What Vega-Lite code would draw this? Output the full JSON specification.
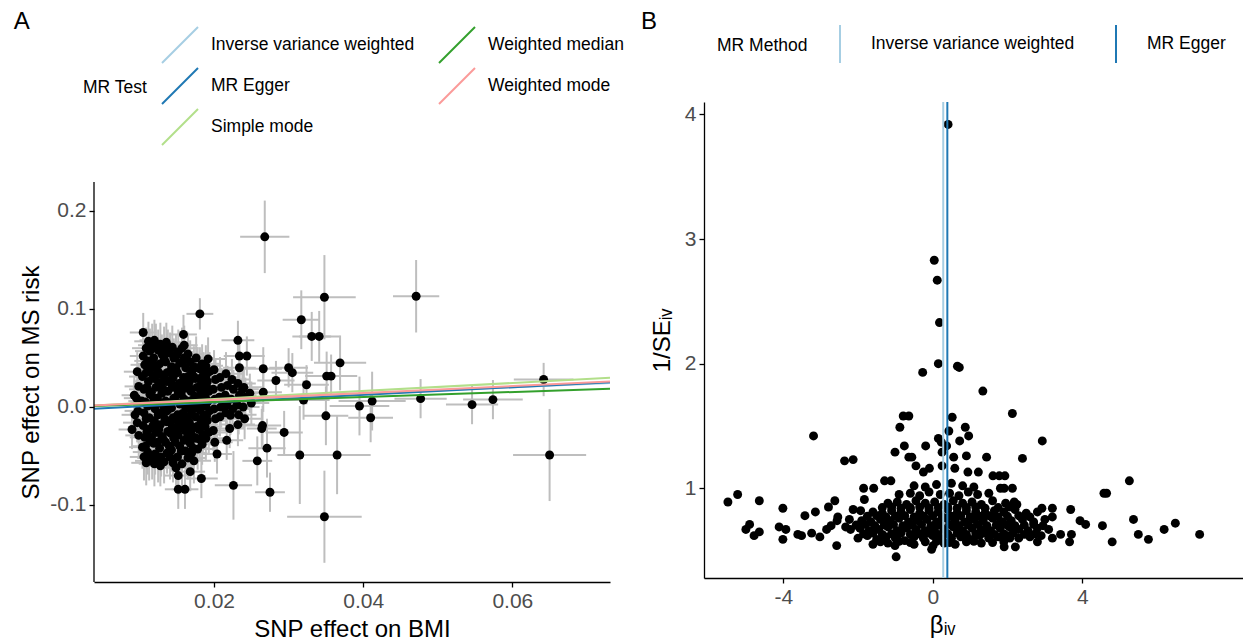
{
"$schema":"https://vega.github.io/schema/vega-lite/v6.json",
"padding":{"left":13,"top":10,"right":0,"bottom":0},
"config":{
 "font":"Liberation Sans",
 "view":{"stroke":null},
 "locale":{"number":{"decimal":".","thousands":",","grouping":[3],"currency":["$",""],"minus":"-"}},
 "axis":{"grid":false,"domainColor":"#000","domainWidth":1.3,"tickColor":"#000","tickSize":5,"tickWidth":1.3,"labelFontSize":21,"labelColor":"#4d4d4d","titleFontSize":24,"titleFontWeight":"normal","titleColor":"#000","labelPadding":3,"titlePadding":6},
 "title":{"fontSize":24,"fontWeight":"normal","anchor":"start","frame":"bounds","color":"#000"},
 "legend":{"labelFontSize":17.5,"titleFontSize":17.5,"titleFontWeight":"normal","labelColor":"#000","titleColor":"#000","labelLimit":0}
},
"datasets":{
"axisA":[{"ax":0.0039,"ay":-0.1786,"ay2":0.2296}],
"snpA":[
{"bx":0.0268,"my":0.1736,"bxe":0.0033,"mye":0.037},
{"bx":0.0348,"my":0.112,"bxe":0.0042,"mye":0.043},
{"bx":0.0471,"my":0.113,"bxe":0.0031,"mye":0.037},
{"bx":0.0181,"my":0.095,"bxe":0.0018,"mye":0.016},
{"bx":0.0317,"my":0.089,"bxe":0.0025,"mye":0.03},
{"bx":0.0331,"my":0.072,"bxe":0.0026,"mye":0.025},
{"bx":0.0341,"my":0.072,"bxe":0.0027,"mye":0.026},
{"bx":0.0369,"my":0.045,"bxe":0.0035,"mye":0.028},
{"bx":0.0351,"my":0.0315,"bxe":0.0028,"mye":0.025},
{"bx":0.0357,"my":0.0315,"bxe":0.0035,"mye":0.022},
{"bx":0.0324,"my":0.0227,"bxe":0.003,"mye":0.02},
{"bx":0.03,"my":0.04,"bxe":0.0026,"mye":0.02},
{"bx":0.0305,"my":0.035,"bxe":0.0028,"mye":0.02},
{"bx":0.0283,"my":0.027,"bxe":0.0025,"mye":0.02},
{"bx":0.0266,"my":0.039,"bxe":0.0025,"mye":0.022},
{"bx":0.0232,"my":0.068,"bxe":0.0022,"mye":0.02},
{"bx":0.0234,"my":0.052,"bxe":0.0021,"mye":0.02},
{"bx":0.0244,"my":0.052,"bxe":0.0024,"mye":0.02},
{"bx":0.0234,"my":0.04,"bxe":0.0022,"mye":0.018},
{"bx":0.0642,"my":0.028,"bxe":0.004,"mye":0.017},
{"bx":0.0477,"my":0.0085,"bxe":0.0035,"mye":0.02},
{"bx":0.0546,"my":0.0024,"bxe":0.0035,"mye":0.02},
{"bx":0.0574,"my":0.0075,"bxe":0.004,"mye":0.02},
{"bx":0.0395,"my":0.001,"bxe":0.004,"mye":0.03},
{"bx":0.0412,"my":0.006,"bxe":0.0045,"mye":0.03},
{"bx":0.041,"my":-0.011,"bxe":0.003,"mye":0.025},
{"bx":0.035,"my":-0.009,"bxe":0.003,"mye":0.03},
{"bx":0.032,"my":0.007,"bxe":0.0035,"mye":0.02},
{"bx":0.0365,"my":-0.049,"bxe":0.0045,"mye":0.04},
{"bx":0.0315,"my":-0.049,"bxe":0.003,"mye":0.05},
{"bx":0.065,"my":-0.049,"bxe":0.0049,"mye":0.047},
{"bx":0.0348,"my":-0.112,"bxe":0.005,"mye":0.047},
{"bx":0.0294,"my":-0.026,"bxe":0.0025,"mye":0.022},
{"bx":0.0275,"my":-0.087,"bxe":0.002,"mye":0.02},
{"bx":0.0226,"my":-0.08,"bxe":0.0025,"mye":0.035},
{"bx":0.0271,"my":-0.042,"bxe":0.0025,"mye":0.03},
{"bx":0.0265,"my":-0.019,"bxe":0.0025,"mye":0.02},
{"bx":0.0264,"my":-0.022,"bxe":0.002,"mye":0.02},
{"bx":0.0258,"my":-0.055,"bxe":0.002,"mye":0.025},
{"bx":0.0222,"my":-0.0085,"bxe":0.002,"mye":0.02},
{"bx":0.0221,"my":-0.022,"bxe":0.002,"mye":0.02},
{"bx":0.0217,"my":-0.034,"bxe":0.0022,"mye":0.02},
{"bx":0.0204,"my":-0.048,"bxe":0.002,"mye":0.02},
{"bx":0.0183,"my":-0.073,"bxe":0.0022,"mye":0.02},
{"bx":0.0168,"my":-0.066,"bxe":0.002,"mye":0.02},
{"bx":0.0152,"my":-0.07,"bxe":0.0018,"mye":0.02},
{"bx":0.0152,"my":-0.084,"bxe":0.0018,"mye":0.02},
{"bx":0.0161,"my":-0.084,"bxe":0.0018,"mye":0.02},
{"bx":0.009,"my":-0.023,"bxe":0.0018,"mye":0.02},
{"bx":0.0105,"my":0.076,"bxe":0.0018,"mye":0.02},
{"bx":0.0159,"my":0.074,"bxe":0.0018,"mye":0.02},
{"bx":0.016,"my":0.063,"bxe":0.0018,"mye":0.02},
{"bx":0.0266,"my":0.015,"bxe":0.0025,"mye":0.02},
{"bx":0.0238,"my":0.018,"bxe":0.0022,"mye":0.02},
{"bx":0.0097,"my":0.036,"bxe":0.0018,"mye":0.02},
{"bx":0.0099,"my":0.021,"bxe":0.0019,"mye":0.022},
{"bx":0.0096,"my":0.009,"bxe":0.0017,"mye":0.019},
{"bx":0.0098,"my":-0.004,"bxe":0.0018,"mye":0.021},
{"bx":0.0097,"my":-0.016,"bxe":0.0019,"mye":0.02},
{"bx":0.0099,"my":-0.029,"bxe":0.0018,"mye":0.023},
{"bx":0.0093,"my":0.012,"bxe":0.0017,"mye":0.02},
{"bx":0.0094,"my":-0.008,"bxe":0.0018,"mye":0.019},
{"bx":0.0105,"my":0.052,"bxe":0.0018,"mye":0.021},
{"bx":0.0107,"my":0.043,"bxe":0.0019,"mye":0.024},
{"bx":0.0104,"my":0.031,"bxe":0.0018,"mye":0.02},
{"bx":0.0106,"my":0.018,"bxe":0.002,"mye":0.022},
{"bx":0.0103,"my":0.006,"bxe":0.0018,"mye":0.019},
{"bx":0.0106,"my":-0.006,"bxe":0.0019,"mye":0.021},
{"bx":0.0105,"my":-0.019,"bxe":0.0018,"mye":0.023},
{"bx":0.0107,"my":-0.031,"bxe":0.002,"mye":0.02},
{"bx":0.0104,"my":-0.041,"bxe":0.0018,"mye":0.022},
{"bx":0.0106,"my":-0.051,"bxe":0.0019,"mye":0.024},
{"bx":0.0112,"my":0.067,"bxe":0.0019,"mye":0.02},
{"bx":0.0114,"my":0.057,"bxe":0.002,"mye":0.023},
{"bx":0.0111,"my":0.047,"bxe":0.0018,"mye":0.021},
{"bx":0.0113,"my":0.038,"bxe":0.0019,"mye":0.019},
{"bx":0.0112,"my":0.026,"bxe":0.002,"mye":0.022},
{"bx":0.0114,"my":0.013,"bxe":0.0018,"mye":0.02},
{"bx":0.0111,"my":0.001,"bxe":0.0019,"mye":0.024},
{"bx":0.0113,"my":-0.011,"bxe":0.0021,"mye":0.021},
{"bx":0.0112,"my":-0.023,"bxe":0.0019,"mye":0.02},
{"bx":0.0114,"my":-0.035,"bxe":0.0018,"mye":0.022},
{"bx":0.0111,"my":-0.046,"bxe":0.002,"mye":0.023},
{"bx":0.0113,"my":-0.055,"bxe":0.0019,"mye":0.02},
{"bx":0.012,"my":0.068,"bxe":0.002,"mye":0.021},
{"bx":0.0122,"my":0.061,"bxe":0.0019,"mye":0.024},
{"bx":0.0119,"my":0.05,"bxe":0.002,"mye":0.02},
{"bx":0.0121,"my":0.04,"bxe":0.0021,"mye":0.022},
{"bx":0.012,"my":0.029,"bxe":0.0019,"mye":0.019},
{"bx":0.0122,"my":0.02,"bxe":0.002,"mye":0.023},
{"bx":0.0119,"my":0.009,"bxe":0.0021,"mye":0.021},
{"bx":0.0121,"my":-0.002,"bxe":0.0019,"mye":0.02},
{"bx":0.012,"my":-0.014,"bxe":0.002,"mye":0.022},
{"bx":0.0122,"my":-0.026,"bxe":0.0021,"mye":0.024},
{"bx":0.0119,"my":-0.037,"bxe":0.0019,"mye":0.02},
{"bx":0.0121,"my":-0.048,"bxe":0.002,"mye":0.021},
{"bx":0.012,"my":-0.058,"bxe":0.0021,"mye":0.023},
{"bx":0.0128,"my":0.064,"bxe":0.002,"mye":0.022},
{"bx":0.013,"my":0.054,"bxe":0.0021,"mye":0.02},
{"bx":0.0127,"my":0.044,"bxe":0.0019,"mye":0.024},
{"bx":0.0129,"my":0.033,"bxe":0.002,"mye":0.021},
{"bx":0.0128,"my":0.023,"bxe":0.0022,"mye":0.019},
{"bx":0.013,"my":0.014,"bxe":0.002,"mye":0.022},
{"bx":0.0127,"my":0.004,"bxe":0.0019,"mye":0.023},
{"bx":0.0129,"my":-0.006,"bxe":0.0021,"mye":0.02},
{"bx":0.0128,"my":-0.018,"bxe":0.002,"mye":0.021},
{"bx":0.013,"my":-0.03,"bxe":0.0019,"mye":0.024},
{"bx":0.0127,"my":-0.042,"bxe":0.0021,"mye":0.022},
{"bx":0.0129,"my":-0.051,"bxe":0.002,"mye":0.02},
{"bx":0.0128,"my":-0.06,"bxe":0.0019,"mye":0.021},
{"bx":0.0136,"my":0.066,"bxe":0.0021,"mye":0.02},
{"bx":0.0138,"my":0.056,"bxe":0.002,"mye":0.023},
{"bx":0.0135,"my":0.046,"bxe":0.0022,"mye":0.021},
{"bx":0.0137,"my":0.035,"bxe":0.002,"mye":0.019},
{"bx":0.0136,"my":0.026,"bxe":0.0021,"mye":0.022},
{"bx":0.0138,"my":0.016,"bxe":0.0019,"mye":0.024},
{"bx":0.0135,"my":0.006,"bxe":0.002,"mye":0.02},
{"bx":0.0137,"my":-0.004,"bxe":0.0022,"mye":0.021},
{"bx":0.0136,"my":-0.015,"bxe":0.002,"mye":0.023},
{"bx":0.0138,"my":-0.025,"bxe":0.0021,"mye":0.02},
{"bx":0.0135,"my":-0.036,"bxe":0.0019,"mye":0.022},
{"bx":0.0137,"my":-0.047,"bxe":0.002,"mye":0.021},
{"bx":0.0144,"my":0.061,"bxe":0.0021,"mye":0.022},
{"bx":0.0146,"my":0.05,"bxe":0.002,"mye":0.02},
{"bx":0.0143,"my":0.041,"bxe":0.0022,"mye":0.024},
{"bx":0.0145,"my":0.03,"bxe":0.0021,"mye":0.021},
{"bx":0.0144,"my":0.02,"bxe":0.002,"mye":0.019},
{"bx":0.0146,"my":0.009,"bxe":0.0022,"mye":0.023},
{"bx":0.0143,"my":-0.001,"bxe":0.0021,"mye":0.022},
{"bx":0.0145,"my":-0.011,"bxe":0.002,"mye":0.02},
{"bx":0.0144,"my":-0.021,"bxe":0.0022,"mye":0.024},
{"bx":0.0146,"my":-0.032,"bxe":0.0021,"mye":0.021},
{"bx":0.0143,"my":-0.044,"bxe":0.002,"mye":0.022},
{"bx":0.0145,"my":-0.057,"bxe":0.0022,"mye":0.02},
{"bx":0.0152,"my":0.056,"bxe":0.0021,"mye":0.023},
{"bx":0.0154,"my":0.045,"bxe":0.0022,"mye":0.021},
{"bx":0.0151,"my":0.035,"bxe":0.002,"mye":0.02},
{"bx":0.0153,"my":0.024,"bxe":0.0021,"mye":0.022},
{"bx":0.0152,"my":0.014,"bxe":0.0023,"mye":0.024},
{"bx":0.0154,"my":0.003,"bxe":0.0021,"mye":0.021},
{"bx":0.0151,"my":-0.008,"bxe":0.002,"mye":0.02},
{"bx":0.0153,"my":-0.018,"bxe":0.0022,"mye":0.023},
{"bx":0.0152,"my":-0.029,"bxe":0.0021,"mye":0.022},
{"bx":0.0154,"my":-0.04,"bxe":0.0023,"mye":0.02},
{"bx":0.0151,"my":-0.051,"bxe":0.0021,"mye":0.024},
{"bx":0.016,"my":0.05,"bxe":0.0022,"mye":0.021},
{"bx":0.0162,"my":0.04,"bxe":0.0021,"mye":0.02},
{"bx":0.0159,"my":0.03,"bxe":0.0023,"mye":0.022},
{"bx":0.0161,"my":0.019,"bxe":0.0022,"mye":0.024},
{"bx":0.016,"my":0.008,"bxe":0.0021,"mye":0.021},
{"bx":0.0162,"my":-0.002,"bxe":0.0023,"mye":0.02},
{"bx":0.0159,"my":-0.013,"bxe":0.0022,"mye":0.023},
{"bx":0.0161,"my":-0.024,"bxe":0.0021,"mye":0.022},
{"bx":0.016,"my":-0.034,"bxe":0.0022,"mye":0.02},
{"bx":0.0162,"my":-0.045,"bxe":0.0023,"mye":0.024},
{"bx":0.0168,"my":0.046,"bxe":0.0022,"mye":0.022},
{"bx":0.017,"my":0.036,"bxe":0.0023,"mye":0.02},
{"bx":0.0167,"my":0.026,"bxe":0.0021,"mye":0.024},
{"bx":0.0169,"my":0.016,"bxe":0.0022,"mye":0.021},
{"bx":0.0168,"my":0.006,"bxe":0.0024,"mye":0.022},
{"bx":0.017,"my":-0.004,"bxe":0.0022,"mye":0.02},
{"bx":0.0167,"my":-0.016,"bxe":0.0021,"mye":0.023},
{"bx":0.0169,"my":-0.026,"bxe":0.0023,"mye":0.021},
{"bx":0.0168,"my":-0.037,"bxe":0.0022,"mye":0.024},
{"bx":0.017,"my":-0.047,"bxe":0.0021,"mye":0.02},
{"bx":0.0176,"my":0.05,"bxe":0.0023,"mye":0.022},
{"bx":0.0178,"my":0.04,"bxe":0.0022,"mye":0.021},
{"bx":0.0175,"my":0.029,"bxe":0.0024,"mye":0.02},
{"bx":0.0177,"my":0.02,"bxe":0.0022,"mye":0.023},
{"bx":0.0176,"my":0.01,"bxe":0.0023,"mye":0.024},
{"bx":0.0178,"my":0.0,"bxe":0.0022,"mye":0.021},
{"bx":0.0175,"my":-0.01,"bxe":0.0024,"mye":0.02},
{"bx":0.0177,"my":-0.02,"bxe":0.0022,"mye":0.022},
{"bx":0.0176,"my":-0.032,"bxe":0.0023,"mye":0.023},
{"bx":0.0178,"my":-0.043,"bxe":0.0022,"mye":0.021},
{"bx":0.0184,"my":0.044,"bxe":0.0023,"mye":0.02},
{"bx":0.0186,"my":0.034,"bxe":0.0024,"mye":0.022},
{"bx":0.0183,"my":0.024,"bxe":0.0022,"mye":0.024},
{"bx":0.0185,"my":0.012,"bxe":0.0023,"mye":0.021},
{"bx":0.0184,"my":0.002,"bxe":0.0024,"mye":0.02},
{"bx":0.0186,"my":-0.008,"bxe":0.0022,"mye":0.023},
{"bx":0.0183,"my":-0.018,"bxe":0.0023,"mye":0.022},
{"bx":0.0185,"my":-0.028,"bxe":0.0024,"mye":0.02},
{"bx":0.0184,"my":-0.038,"bxe":0.0022,"mye":0.021},
{"bx":0.0192,"my":0.049,"bxe":0.0024,"mye":0.022},
{"bx":0.0194,"my":0.036,"bxe":0.0023,"mye":0.02},
{"bx":0.0191,"my":0.026,"bxe":0.0022,"mye":0.023},
{"bx":0.0193,"my":0.016,"bxe":0.0024,"mye":0.021},
{"bx":0.0192,"my":0.006,"bxe":0.0023,"mye":0.024},
{"bx":0.0194,"my":-0.004,"bxe":0.0022,"mye":0.02},
{"bx":0.0191,"my":-0.014,"bxe":0.0024,"mye":0.022},
{"bx":0.0193,"my":-0.026,"bxe":0.0023,"mye":0.021},
{"bx":0.02,"my":0.038,"bxe":0.0023,"mye":0.02},
{"bx":0.0202,"my":0.028,"bxe":0.0024,"mye":0.022},
{"bx":0.0199,"my":0.018,"bxe":0.0022,"mye":0.021},
{"bx":0.0201,"my":0.008,"bxe":0.0023,"mye":0.023},
{"bx":0.02,"my":-0.002,"bxe":0.0024,"mye":0.02},
{"bx":0.0202,"my":-0.012,"bxe":0.0022,"mye":0.022},
{"bx":0.0199,"my":-0.024,"bxe":0.0023,"mye":0.021},
{"bx":0.0201,"my":-0.036,"bxe":0.0024,"mye":0.02},
{"bx":0.0208,"my":0.03,"bxe":0.0023,"mye":0.021},
{"bx":0.021,"my":0.02,"bxe":0.0024,"mye":0.02},
{"bx":0.0207,"my":0.01,"bxe":0.0022,"mye":0.022},
{"bx":0.0209,"my":0.0,"bxe":0.0023,"mye":0.021},
{"bx":0.0208,"my":-0.01,"bxe":0.0024,"mye":0.02},
{"bx":0.0216,"my":0.034,"bxe":0.0023,"mye":0.022},
{"bx":0.0218,"my":0.022,"bxe":0.0024,"mye":0.02},
{"bx":0.0215,"my":0.012,"bxe":0.0022,"mye":0.021},
{"bx":0.0217,"my":0.002,"bxe":0.0023,"mye":0.022},
{"bx":0.0216,"my":-0.006,"bxe":0.0024,"mye":0.02},
{"bx":0.0224,"my":0.028,"bxe":0.0023,"mye":0.021},
{"bx":0.0226,"my":0.018,"bxe":0.0024,"mye":0.02},
{"bx":0.0223,"my":0.008,"bxe":0.0022,"mye":0.022},
{"bx":0.0225,"my":-0.002,"bxe":0.0023,"mye":0.021},
{"bx":0.0232,"my":0.024,"bxe":0.0024,"mye":0.02},
{"bx":0.0234,"my":0.012,"bxe":0.0023,"mye":0.022},
{"bx":0.0231,"my":0.002,"bxe":0.0022,"mye":0.021},
{"bx":0.0233,"my":-0.008,"bxe":0.0024,"mye":0.02},
{"bx":0.0232,"my":-0.018,"bxe":0.0023,"mye":0.022},
{"bx":0.024,"my":0.02,"bxe":0.0024,"mye":0.021},
{"bx":0.0242,"my":0.01,"bxe":0.0023,"mye":0.02},
{"bx":0.0239,"my":0.0,"bxe":0.0022,"mye":0.022},
{"bx":0.0241,"my":-0.012,"bxe":0.0024,"mye":0.021},
{"bx":0.0248,"my":0.014,"bxe":0.0023,"mye":0.02},
{"bx":0.025,"my":0.004,"bxe":0.0024,"mye":0.022},
{"bx":0.0109,"my":0.06,"bxe":0.0019,"mye":0.021},{"bx":0.0109,"my":0.035,"bxe":0.0018,"mye":0.022},{"bx":0.011,"my":0.02,"bxe":0.0019,"mye":0.02},{"bx":0.0108,"my":0.005,"bxe":0.002,"mye":0.023},{"bx":0.0109,"my":-0.012,"bxe":0.0019,"mye":0.021},{"bx":0.011,"my":-0.025,"bxe":0.0018,"mye":0.022},{"bx":0.0108,"my":-0.04,"bxe":0.0019,"mye":0.02},{"bx":0.0109,"my":-0.057,"bxe":0.002,"mye":0.023},
{"bx":0.0117,"my":0.063,"bxe":0.0019,"mye":0.022},{"bx":0.0117,"my":0.044,"bxe":0.002,"mye":0.021},{"bx":0.0118,"my":0.032,"bxe":0.0019,"mye":0.02},{"bx":0.0116,"my":0.015,"bxe":0.002,"mye":0.023},{"bx":0.0117,"my":0.003,"bxe":0.0019,"mye":0.022},{"bx":0.0118,"my":-0.019,"bxe":0.002,"mye":0.021},{"bx":0.0116,"my":-0.031,"bxe":0.0019,"mye":0.02},{"bx":0.0117,"my":-0.052,"bxe":0.002,"mye":0.022},
{"bx":0.0125,"my":0.058,"bxe":0.002,"mye":0.021},{"bx":0.0125,"my":0.036,"bxe":0.0021,"mye":0.022},{"bx":0.0126,"my":0.025,"bxe":0.002,"mye":0.02},{"bx":0.0124,"my":0.009,"bxe":0.0021,"mye":0.023},{"bx":0.0125,"my":-0.008,"bxe":0.002,"mye":0.021},{"bx":0.0126,"my":-0.023,"bxe":0.0021,"mye":0.022},{"bx":0.0124,"my":-0.036,"bxe":0.002,"mye":0.02},{"bx":0.0125,"my":-0.054,"bxe":0.0021,"mye":0.023},
{"bx":0.0133,"my":0.06,"bxe":0.002,"mye":0.022},{"bx":0.0133,"my":0.049,"bxe":0.0021,"mye":0.021},{"bx":0.0134,"my":0.029,"bxe":0.002,"mye":0.02},{"bx":0.0132,"my":0.018,"bxe":0.0021,"mye":0.023},{"bx":0.0133,"my":0.0,"bxe":0.002,"mye":0.022},{"bx":0.0134,"my":-0.012,"bxe":0.0021,"mye":0.021},{"bx":0.0132,"my":-0.033,"bxe":0.002,"mye":0.02},{"bx":0.0133,"my":-0.056,"bxe":0.0021,"mye":0.022},
{"bx":0.0141,"my":0.055,"bxe":0.0021,"mye":0.021},{"bx":0.0141,"my":0.036,"bxe":0.0022,"mye":0.022},{"bx":0.0142,"my":0.025,"bxe":0.0021,"mye":0.02},{"bx":0.014,"my":0.004,"bxe":0.0022,"mye":0.023},{"bx":0.0141,"my":-0.016,"bxe":0.0021,"mye":0.021},{"bx":0.0142,"my":-0.027,"bxe":0.0022,"mye":0.022},{"bx":0.014,"my":-0.04,"bxe":0.0021,"mye":0.02},{"bx":0.0141,"my":-0.051,"bxe":0.0022,"mye":0.023},
{"bx":0.0149,"my":0.052,"bxe":0.0021,"mye":0.022},{"bx":0.0149,"my":0.04,"bxe":0.0022,"mye":0.021},{"bx":0.015,"my":0.019,"bxe":0.0021,"mye":0.02},{"bx":0.0148,"my":0.008,"bxe":0.0022,"mye":0.023},{"bx":0.0149,"my":-0.013,"bxe":0.0021,"mye":0.022},{"bx":0.015,"my":-0.024,"bxe":0.0022,"mye":0.021},{"bx":0.0148,"my":-0.036,"bxe":0.0021,"mye":0.02},{"bx":0.0149,"my":-0.062,"bxe":0.0022,"mye":0.022},
{"bx":0.0157,"my":0.06,"bxe":0.0022,"mye":0.021},{"bx":0.0157,"my":0.045,"bxe":0.0021,"mye":0.022},{"bx":0.0158,"my":0.025,"bxe":0.0022,"mye":0.02},{"bx":0.0156,"my":0.013,"bxe":0.0021,"mye":0.023},{"bx":0.0157,"my":-0.007,"bxe":0.0022,"mye":0.021},{"bx":0.0158,"my":-0.019,"bxe":0.0021,"mye":0.022},{"bx":0.0156,"my":-0.045,"bxe":0.0022,"mye":0.02},{"bx":0.0157,"my":-0.058,"bxe":0.0021,"mye":0.023},
{"bx":0.0165,"my":0.054,"bxe":0.0022,"mye":0.022},{"bx":0.0165,"my":0.031,"bxe":0.0023,"mye":0.021},{"bx":0.0166,"my":0.021,"bxe":0.0022,"mye":0.02},{"bx":0.0164,"my":0.001,"bxe":0.0023,"mye":0.023},{"bx":0.0165,"my":-0.01,"bxe":0.0022,"mye":0.022},{"bx":0.0166,"my":-0.021,"bxe":0.0023,"mye":0.021},{"bx":0.0164,"my":-0.031,"bxe":0.0022,"mye":0.02},{"bx":0.0165,"my":-0.052,"bxe":0.0023,"mye":0.022},
{"bx":0.0173,"my":0.041,"bxe":0.0022,"mye":0.021},{"bx":0.0173,"my":0.031,"bxe":0.0023,"mye":0.022},{"bx":0.0174,"my":0.011,"bxe":0.0022,"mye":0.02},{"bx":0.0172,"my":0.001,"bxe":0.0023,"mye":0.023},{"bx":0.0173,"my":-0.021,"bxe":0.0022,"mye":0.021},{"bx":0.0174,"my":-0.031,"bxe":0.0023,"mye":0.022},{"bx":0.0172,"my":-0.042,"bxe":0.0022,"mye":0.02},{"bx":0.0173,"my":-0.055,"bxe":0.0023,"mye":0.023},
{"bx":0.0181,"my":0.039,"bxe":0.0023,"mye":0.022},{"bx":0.0181,"my":0.029,"bxe":0.0022,"mye":0.021},{"bx":0.0182,"my":0.017,"bxe":0.0023,"mye":0.02},{"bx":0.018,"my":0.007,"bxe":0.0022,"mye":0.023},{"bx":0.0181,"my":-0.003,"bxe":0.0023,"mye":0.022},{"bx":0.0182,"my":-0.013,"bxe":0.0022,"mye":0.021},{"bx":0.018,"my":-0.023,"bxe":0.0023,"mye":0.02},{"bx":0.0181,"my":-0.033,"bxe":0.0022,"mye":0.022},
{"bx":0.0189,"my":0.042,"bxe":0.0023,"mye":0.021},{"bx":0.0189,"my":0.031,"bxe":0.0024,"mye":0.022},{"bx":0.019,"my":0.021,"bxe":0.0023,"mye":0.02},{"bx":0.0188,"my":0.011,"bxe":0.0024,"mye":0.023},{"bx":0.0189,"my":0.001,"bxe":0.0023,"mye":0.021},{"bx":0.019,"my":-0.009,"bxe":0.0024,"mye":0.022},{"bx":0.0188,"my":-0.02,"bxe":0.0023,"mye":0.02},{"bx":0.0189,"my":-0.032,"bxe":0.0024,"mye":0.022}
],
"linesA":[
{"method":"Inverse variance weighted","bx":0.0039,"my":0.0013},
{"method":"Inverse variance weighted","bx":0.0731,"my":0.0245},
{"method":"MR Egger","bx":0.0039,"my":-0.0017},
{"method":"MR Egger","bx":0.0731,"my":0.0253},
{"method":"Simple mode","bx":0.0039,"my":0.0016},
{"method":"Simple mode","bx":0.0731,"my":0.0298},
{"method":"Weighted median","bx":0.0039,"my":0.001},
{"method":"Weighted median","bx":0.0731,"my":0.0186},
{"method":"Weighted mode","bx":0.0039,"my":0.0014},
{"method":"Weighted mode","bx":0.0731,"my":0.026}
],
"snpB":[
{"biv":0.41,"inv":3.92},{"biv":0.04,"inv":2.83},{"biv":0.12,"inv":2.67},{"biv":0.18,"inv":2.33},{"biv":0.15,"inv":2.0},{"biv":-0.27,"inv":1.93},{"biv":0.66,"inv":1.98},{"biv":0.71,"inv":1.97},{"biv":1.34,"inv":1.78},{"biv":2.13,"inv":1.6},{"biv":0.52,"inv":1.57},{"biv":-0.79,"inv":1.58},{"biv":-0.64,"inv":1.58},{"biv":-0.88,"inv":1.49},{"biv":0.87,"inv":1.49},{"biv":0.96,"inv":1.42},{"biv":-3.19,"inv":1.42},{"biv":2.93,"inv":1.38},{"biv":0.43,"inv":1.46},{"biv":0.15,"inv":1.4},{"biv":0.23,"inv":1.37},{"biv":0.37,"inv":1.34},{"biv":0.72,"inv":1.38},{"biv":-0.19,"inv":1.34},{"biv":-0.76,"inv":1.34},{"biv":-1.01,"inv":1.29},{"biv":0.25,"inv":1.29},{"biv":0.56,"inv":1.25},{"biv":0.9,"inv":1.26},{"biv":-0.64,"inv":1.25},{"biv":-0.56,"inv":1.25},{"biv":1.44,"inv":1.25},{"biv":2.4,"inv":1.24},{"biv":-2.36,"inv":1.22},{"biv":-2.13,"inv":1.23},{"biv":0.25,"inv":1.18},{"biv":0.59,"inv":1.16},{"biv":-0.45,"inv":1.18},{"biv":-0.25,"inv":1.13},{"biv":-0.09,"inv":1.16},{"biv":0.94,"inv":1.13},{"biv":1.22,"inv":1.13},{"biv":1.61,"inv":1.1},{"biv":1.78,"inv":1.1},{"biv":1.93,"inv":1.1},{"biv":5.26,"inv":1.06},{"biv":-1.29,"inv":1.06},{"biv":-1.12,"inv":1.06},{"biv":4.58,"inv":0.96},{"biv":4.65,"inv":0.96},{"biv":-5.48,"inv":0.89},{"biv":-5.22,"inv":0.95},{"biv":-4.64,"inv":0.9},{"biv":-4.01,"inv":0.84},{"biv":-2.62,"inv":0.9},{"biv":-2.79,"inv":0.85},{"biv":-3.42,"inv":0.78},{"biv":-3.14,"inv":0.81},{"biv":3.69,"inv":0.83},{"biv":3.2,"inv":0.84},{"biv":5.37,"inv":0.75},{"biv":6.49,"inv":0.72},{"biv":6.19,"inv":0.67},{"biv":7.14,"inv":0.63},{"biv":5.5,"inv":0.63},{"biv":5.77,"inv":0.59},{"biv":4.8,"inv":0.57},{"biv":4.54,"inv":0.7},{"biv":4.09,"inv":0.71},{"biv":3.94,"inv":0.74},{"biv":3.66,"inv":0.57},{"biv":3.71,"inv":0.63},{"biv":3.42,"inv":0.63},{"biv":-5.0,"inv":0.67},{"biv":-4.9,"inv":0.71},{"biv":-4.78,"inv":0.62},{"biv":-4.64,"inv":0.65},{"biv":-4.11,"inv":0.69},{"biv":-3.93,"inv":0.67},{"biv":-4.01,"inv":0.59},{"biv":-3.61,"inv":0.63},{"biv":-3.51,"inv":0.62},{"biv":-3.24,"inv":0.64},{"biv":-3.02,"inv":0.61},{"biv":-2.84,"inv":0.67},{"biv":-2.72,"inv":0.7},{"biv":-2.57,"inv":0.54},{"biv":-2.54,"inv":0.77},{"biv":-2.56,"inv":0.74},{"biv":-2.33,"inv":0.69},{"biv":-2.23,"inv":0.75},{"biv":-2.13,"inv":0.83},{"biv":-1.93,"inv":0.82},{"biv":-1.85,"inv":1.0},{"biv":-1.58,"inv":1.0},{"biv":-1.83,"inv":0.91},{"biv":-0.98,"inv":0.45},{"biv":-1.01,"inv":0.54},{"biv":-0.03,"inv":0.51},{"biv":0.01,"inv":0.54},{"biv":1.91,"inv":0.53},{"biv":2.21,"inv":0.53},{"biv":2.06,"inv":0.6},{"biv":2.13,"inv":1.0},{"biv":1.81,"inv":1.0},{"biv":1.91,"inv":1.0},{"biv":2.18,"inv":0.89},{"biv":2.8,"inv":0.81},{"biv":2.92,"inv":0.84},{"biv":3.2,"inv":0.77},{"biv":2.8,"inv":0.57},
{"biv":-2.0,"inv":0.6},{"biv":-1.75,"inv":0.62},{"biv":-1.5,"inv":0.59},{"biv":-1.25,"inv":0.61},{"biv":-1.0,"inv":0.6},{"biv":-0.75,"inv":0.58},{"biv":-0.5,"inv":0.61},{"biv":-0.25,"inv":0.6},{"biv":0.0,"inv":0.62},{"biv":0.25,"inv":0.59},{"biv":0.5,"inv":0.6},{"biv":0.75,"inv":0.61},{"biv":1.0,"inv":0.59},{"biv":1.25,"inv":0.62},{"biv":1.5,"inv":0.6},{"biv":1.75,"inv":0.61},{"biv":2.0,"inv":0.62},{"biv":2.3,"inv":0.6},{"biv":2.6,"inv":0.61},{"biv":2.9,"inv":0.62},{"biv":3.2,"inv":0.6},
{"biv":-2.2,"inv":0.67},{"biv":-1.95,"inv":0.68},{"biv":-1.7,"inv":0.66},{"biv":-1.45,"inv":0.67},{"biv":-1.2,"inv":0.69},{"biv":-0.95,"inv":0.66},{"biv":-0.7,"inv":0.68},{"biv":-0.45,"inv":0.67},{"biv":-0.2,"inv":0.66},{"biv":0.05,"inv":0.68},{"biv":0.3,"inv":0.67},{"biv":0.55,"inv":0.69},{"biv":0.8,"inv":0.66},{"biv":1.05,"inv":0.68},{"biv":1.3,"inv":0.67},{"biv":1.55,"inv":0.66},{"biv":1.8,"inv":0.68},{"biv":2.05,"inv":0.69},{"biv":2.3,"inv":0.67},{"biv":2.55,"inv":0.66},{"biv":2.8,"inv":0.68},{"biv":3.1,"inv":0.67},
{"biv":-1.9,"inv":0.74},{"biv":-1.65,"inv":0.73},{"biv":-1.4,"inv":0.75},{"biv":-1.15,"inv":0.74},{"biv":-0.9,"inv":0.76},{"biv":-0.65,"inv":0.73},{"biv":-0.4,"inv":0.74},{"biv":-0.15,"inv":0.75},{"biv":0.1,"inv":0.73},{"biv":0.35,"inv":0.76},{"biv":0.6,"inv":0.74},{"biv":0.85,"inv":0.73},{"biv":1.1,"inv":0.75},{"biv":1.35,"inv":0.74},{"biv":1.6,"inv":0.76},{"biv":1.85,"inv":0.73},{"biv":2.1,"inv":0.74},{"biv":2.4,"inv":0.75},{"biv":2.7,"inv":0.73},{"biv":3.0,"inv":0.75},
{"biv":-1.6,"inv":0.81},{"biv":-1.35,"inv":0.8},{"biv":-1.1,"inv":0.82},{"biv":-0.85,"inv":0.81},{"biv":-0.6,"inv":0.83},{"biv":-0.35,"inv":0.8},{"biv":-0.1,"inv":0.82},{"biv":0.15,"inv":0.81},{"biv":0.4,"inv":0.83},{"biv":0.65,"inv":0.8},{"biv":0.9,"inv":0.82},{"biv":1.15,"inv":0.81},{"biv":1.4,"inv":0.8},{"biv":1.65,"inv":0.82},{"biv":1.9,"inv":0.81},{"biv":2.2,"inv":0.83},{"biv":2.5,"inv":0.8},
{"biv":-1.2,"inv":0.88},{"biv":-0.95,"inv":0.89},{"biv":-0.7,"inv":0.87},{"biv":-0.45,"inv":0.9},{"biv":-0.2,"inv":0.88},{"biv":0.05,"inv":0.89},{"biv":0.3,"inv":0.87},{"biv":0.55,"inv":0.9},{"biv":0.8,"inv":0.88},{"biv":1.05,"inv":0.89},{"biv":1.3,"inv":0.87},{"biv":1.6,"inv":0.9},{"biv":1.95,"inv":0.88},{"biv":2.25,"inv":0.87},
{"biv":-0.9,"inv":0.95},{"biv":-0.6,"inv":0.96},{"biv":-0.35,"inv":0.94},{"biv":-0.1,"inv":0.97},{"biv":0.2,"inv":0.95},{"biv":0.45,"inv":0.96},{"biv":0.7,"inv":0.94},{"biv":0.95,"inv":0.97},{"biv":1.2,"inv":0.95},{"biv":1.5,"inv":0.96},
{"biv":-0.5,"inv":1.02},{"biv":-0.2,"inv":1.01},{"biv":0.1,"inv":1.03},{"biv":0.5,"inv":1.04},{"biv":0.8,"inv":1.02},{"biv":1.1,"inv":1.01},
{"biv":-1.6,"inv":0.55},{"biv":-1.2,"inv":0.56},{"biv":-0.5,"inv":0.55},{"biv":0.3,"inv":0.56},{"biv":0.6,"inv":0.55},{"biv":1.3,"inv":0.56},
{"biv":-1.85,"inv":0.635},{"biv":-1.6,"inv":0.64},{"biv":-1.35,"inv":0.63},{"biv":-1.1,"inv":0.635},{"biv":-0.85,"inv":0.64},{"biv":-0.6,"inv":0.63},{"biv":-0.35,"inv":0.635},{"biv":-0.1,"inv":0.64},{"biv":0.15,"inv":0.63},{"biv":0.4,"inv":0.635},{"biv":0.65,"inv":0.64},{"biv":0.9,"inv":0.63},{"biv":1.15,"inv":0.635},{"biv":1.4,"inv":0.64},{"biv":1.65,"inv":0.63},{"biv":1.9,"inv":0.635},{"biv":2.15,"inv":0.64},{"biv":2.45,"inv":0.63},{"biv":2.75,"inv":0.635},
{"biv":-2.05,"inv":0.705},{"biv":-1.8,"inv":0.71},{"biv":-1.55,"inv":0.7},{"biv":-1.3,"inv":0.705},{"biv":-1.05,"inv":0.71},{"biv":-0.8,"inv":0.7},{"biv":-0.55,"inv":0.705},{"biv":-0.3,"inv":0.71},{"biv":-0.05,"inv":0.7},{"biv":0.2,"inv":0.705},{"biv":0.45,"inv":0.71},{"biv":0.7,"inv":0.7},{"biv":0.95,"inv":0.705},{"biv":1.2,"inv":0.71},{"biv":1.45,"inv":0.7},{"biv":1.7,"inv":0.705},{"biv":1.95,"inv":0.71},{"biv":2.2,"inv":0.7},{"biv":2.45,"inv":0.705},{"biv":2.7,"inv":0.71},{"biv":2.95,"inv":0.7},
{"biv":-1.75,"inv":0.775},{"biv":-1.5,"inv":0.78},{"biv":-1.25,"inv":0.77},{"biv":-1.0,"inv":0.775},{"biv":-0.75,"inv":0.78},{"biv":-0.5,"inv":0.77},{"biv":-0.25,"inv":0.775},{"biv":0.0,"inv":0.78},{"biv":0.25,"inv":0.77},{"biv":0.5,"inv":0.775},{"biv":0.75,"inv":0.78},{"biv":1.0,"inv":0.77},{"biv":1.25,"inv":0.775},{"biv":1.5,"inv":0.78},{"biv":1.75,"inv":0.77},{"biv":2.0,"inv":0.775},{"biv":2.3,"inv":0.78},{"biv":2.6,"inv":0.77},
{"biv":-1.35,"inv":0.845},{"biv":-1.1,"inv":0.85},{"biv":-0.85,"inv":0.84},{"biv":-0.6,"inv":0.845},{"biv":-0.35,"inv":0.85},{"biv":-0.1,"inv":0.84},{"biv":0.15,"inv":0.845},{"biv":0.4,"inv":0.85},{"biv":0.65,"inv":0.84},{"biv":0.9,"inv":0.845},{"biv":1.15,"inv":0.85},{"biv":1.4,"inv":0.84},{"biv":1.75,"inv":0.845},{"biv":2.05,"inv":0.85},
{"biv":-1.4,"inv":0.57},{"biv":-0.9,"inv":0.575},{"biv":-0.6,"inv":0.565},{"biv":-0.2,"inv":0.57},{"biv":0.1,"inv":0.575},{"biv":0.45,"inv":0.565},{"biv":0.9,"inv":0.57},{"biv":1.1,"inv":0.575},{"biv":1.6,"inv":0.565},{"biv":1.9,"inv":0.57}
],
"linesB":[
{"method":"Inverse variance weighted","biv":0.28},
{"method":"MR Egger","biv":0.39}
]
},
"hconcat":[
{
 "width":516,"height":480,
 "title":{"text":"A","offset":-8,"dx":-6},
 "layer":[
  {"data":{"name":"snpA"},"mark":{"type":"errorbar","color":"#bebebe","thickness":2},
   "encoding":{
    "x":{"field":"bx","type":"quantitative","scale":{"domain":[0.0039,0.0731],"nice":false,"zero":false},"axis":{"values":[0.02,0.04,0.06],"format":".2f","title":"SNP effect on BMI"}},
    "xError":{"field":"bxe"},
    "y":{"field":"my","type":"quantitative","scale":{"domain":[-0.1786,0.3112],"nice":false,"zero":false},"axis":{"values":[-0.1,0,0.1,0.2],"format":".1f","title":"SNP effect on MS risk","domain":false,"titleY":280}}}},
  {"data":{"name":"snpA"},"mark":{"type":"errorbar","color":"#bebebe","thickness":2},
   "encoding":{
    "x":{"field":"bx","type":"quantitative","axis":{"values":[0.02,0.04,0.06],"format":".2f","title":"SNP effect on BMI"}},
    "y":{"field":"my","type":"quantitative","axis":{"values":[-0.1,0,0.1,0.2],"format":".1f","title":"SNP effect on MS risk","domain":false,"titleY":280}},
    "yError":{"field":"mye"}}},
  {"data":{"name":"snpA"},"mark":{"type":"point","filled":true,"size":80,"color":"#000","opacity":1},
   "encoding":{
    "x":{"field":"bx","type":"quantitative","axis":{"values":[0.02,0.04,0.06],"format":".2f","title":"SNP effect on BMI"}},
    "y":{"field":"my","type":"quantitative","axis":{"values":[-0.1,0,0.1,0.2],"format":".1f","title":"SNP effect on MS risk","domain":false,"titleY":280}}}},
  {"data":{"name":"linesA"},"mark":{"type":"line","strokeWidth":2,"clip":true},
   "encoding":{
    "x":{"field":"bx","type":"quantitative","axis":{"values":[0.02,0.04,0.06],"format":".2f","title":"SNP effect on BMI"}},
    "y":{"field":"my","type":"quantitative","axis":{"values":[-0.1,0,0.1,0.2],"format":".1f","title":"SNP effect on MS risk","domain":false,"titleY":280}},
    "color":{"field":"method","type":"nominal",
     "scale":{"domain":["Inverse variance weighted","MR Egger","Simple mode","Weighted median","Weighted mode"],"range":["#a6cee3","#1f78b4","#b2df8a","#33a02c","#fb9a99"]},
     "legend":{"title":"MR Test","orient":"none","legendX":-11,"legendY":-76,"columns":2,"titleOrient":"left","titleAnchor":"middle","titleBaseline":"middle","titlePadding":13,"symbolType":"M-1,1L1,-1","symbolSize":1296,"symbolStrokeWidth":2,"labelOffset":12,"rowPadding":-8.5,"columnPadding":20}}}},
  {"data":{"name":"axisA"},"mark":{"type":"rule","color":"#000","strokeWidth":1.3},
   "encoding":{
    "x":{"field":"ax","type":"quantitative"},
    "y":{"field":"ay","type":"quantitative"},
    "y2":{"field":"ay2"}}}
 ]
},
{
 "width":539,"height":476,
 "title":{"text":"B","offset":-10,"frame":"group","dx":-63},
 "layer":[
  {"data":{"name":"snpB"},"mark":{"type":"point","filled":true,"size":80,"color":"#000","opacity":1},
   "encoding":{
    "x":{"field":"biv","type":"quantitative","scale":{"domain":[-6.12,8.3],"nice":false,"zero":false},"axis":{"values":[-4,0,4],"title":"βᵢᵥ","titleX":238}},
    "y":{"field":"inv","type":"quantitative","scale":{"domain":[0.28,4.1],"nice":false,"zero":false},"axis":{"values":[1,2,3,4],"title":"1/SEᵢᵥ","titlePadding":10}}}},
  {"data":{"name":"linesB"},"mark":{"type":"rule","strokeWidth":2},
   "encoding":{
    "x":{"field":"biv","type":"quantitative","axis":{"values":[-4,0,4],"title":"βᵢᵥ","titleX":238}},
    "color":{"field":"method","type":"nominal",
     "scale":{"domain":["Inverse variance weighted","MR Egger"],"range":["#a6cee3","#1f78b4"]},
     "legend":{"title":"MR Method","orient":"none","legendX":13,"legendY":-78,"direction":"horizontal","titleOrient":"left","titleAnchor":"middle","titleBaseline":"middle","titlePadding":12,"symbolType":"M0,-1L0,1","symbolSize":1444,"symbolStrokeWidth":2,"labelOffset":11,"columnPadding":21}}}}
 ]
}
],
"spacing":17,
"resolve":{"scale":{"color":"independent"},"legend":{"color":"independent"}}
}
